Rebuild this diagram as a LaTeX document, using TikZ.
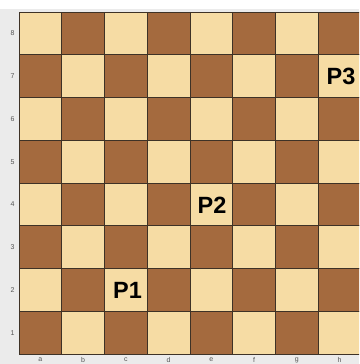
\documentclass[tikz,border=0pt]{standalone}
\usepackage{fontspec}
\setmainfont{Liberation Sans}
\definecolor{bg}{HTML}{EBEBEB}
\definecolor{lightsq}{HTML}{F6DCA4}
\definecolor{darksq}{HTML}{A46A3E}
\definecolor{gridc}{HTML}{3E3226}
\definecolor{labc}{HTML}{555555}
\tikzset{
  lightbox/.style={fill=lightsq,draw=gridc,line width=0.6pt},
  darkbox/.style={fill=darksq,draw=gridc,line width=0.6pt},
  piece/.style={font=\bfseries\fontsize{23.5}{24}\selectfont,text=black,inner sep=0pt},
  coordlab/.style={font=\fontsize{7}{7}\selectfont,text=labc,inner sep=0pt}
}
\begin{document}
\begin{tikzpicture}[x=1pt,y=-1pt]
\useasboundingbox (0,0) rectangle (359,364);
\fill[bg] (0,0) rectangle (359,364);
\fill[white] (0,0) rectangle (359,8.5);
\begin{scope}
\clip (0,0) rectangle (359,364);
\foreach \i in {0,...,7}{
  \foreach \j in {0,...,7}{
    \pgfmathtruncatemacro{\sqpar}{mod(\i+\j,2)}
    \ifnum\sqpar=0
      \path[lightbox] (19+\i*42.75,12+\j*42.75) rectangle ++(42.75,42.75);
    \else
      \path[darkbox] (19+\i*42.75,12+\j*42.75) rectangle ++(42.75,42.75);
    \fi
  }
}
\end{scope}
\foreach \r [count=\k from 0] in {8,7,6,5,4,3,2,1}{
  \node[coordlab] (r\r) at (12.5,33.4+\k*42.75) {\r};
}
\foreach \f [count=\k from 0] in {a,b,c,d,e,f,g,h}{
  \node[coordlab,anchor=north] (f\f) at (40.4+\k*42.75,357.5) {\f};
}
\node[piece] (p1) at (127.5,290.5) {P1};
\node[piece] (p2) at (212,205) {P2};
\node[piece] (p3) at (341,76) {P3};
\end{tikzpicture}
\end{document}
